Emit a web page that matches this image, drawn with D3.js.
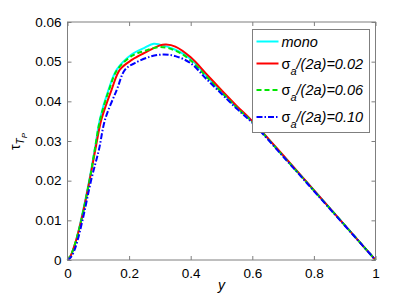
<!DOCTYPE html>
<html><head><meta charset="utf-8">
<script src="https://cdn.jsdelivr.net/npm/d3@7"></script>
<style>body{margin:0;background:#fff}svg{display:block;font-family:"Liberation Sans",Arial,sans-serif}</style>
</head><body><svg id="c" width="415" height="295"></svg>
<script>
const xTicks = [0, 0.2, 0.4, 0.6, 0.8, 1];
const yTicks = [0, 0.01, 0.02, 0.03, 0.04, 0.05, 0.06];
const xTickLabels = ["0", "0.2", "0.4", "0.6", "0.8", "1"];
const yTickLabels = ["0", "0.01", "0.02", "0.03", "0.04", "0.05", "0.06"];
const seriesNames = ["mono", "0.02", "0.06", "0.10"];
const monoX = [0,0.01,0.02,0.028,0.044,0.071,0.09,0.105,0.133,0.16,0.208,0.25,0.28,0.3,0.35,0.4,0.45,0.5,0.55,0.6,0.7,0.8,0.9,1];
const monoY = [0,0.001,0.003,0.005,0.0101,0.0202,0.0285,0.0354,0.0429,0.048,0.0518,0.0535,0.0545,0.0543,0.053,0.0507,0.0465,0.0424,0.0385,0.0349,0.0263,0.0176,0.0088,0];
const s02X = [0,0.01,0.02,0.03,0.045,0.072,0.092,0.11,0.143,0.17,0.21,0.25,0.3,0.32,0.35,0.4,0.45,0.5,0.55,0.6,0.7,0.8,0.9,1];
const s02Y = [0,0.001,0.003,0.0055,0.0101,0.0202,0.0285,0.0354,0.0429,0.048,0.0505,0.0522,0.0541,0.0543,0.0538,0.0511,0.047,0.0428,0.0388,0.035,0.0264,0.0176,0.0088,0];
const s06X = [0,0.01,0.02,0.03,0.045,0.072,0.09,0.106,0.135,0.162,0.21,0.25,0.3,0.35,0.4,0.45,0.5,0.55,0.6,0.7,0.8,0.9,1];
const s06Y = [0,0.001,0.003,0.0055,0.0101,0.0202,0.0285,0.0354,0.0429,0.048,0.0515,0.0527,0.0537,0.0528,0.0503,0.0463,0.0423,0.0384,0.0348,0.0262,0.0175,0.0088,0];
const s10X = [0,0.01,0.02,0.03,0.049,0.077,0.102,0.122,0.16,0.187,0.22,0.27,0.31,0.35,0.4,0.45,0.5,0.55,0.6,0.7,0.8,0.9,1];
const s10Y = [0,0.0006,0.002,0.0042,0.0101,0.0202,0.0278,0.0354,0.0429,0.048,0.0497,0.0513,0.0518,0.0514,0.0496,0.0457,0.0419,0.0381,0.0346,0.0261,0.0174,0.0087,0];

const svg = d3.select("#c");
const L = 67.5, R = 375.5, T = 22, B = 260;
const x = d3.scaleLinear().domain([0, 1]).range([L, R]);
const y = d3.scaleLinear().domain([0, 0.06]).range([B, T]);
const axisColor = "#7f7f7f";

const series = [
  {name: seriesNames[0], xs: monoX, ys: monoY, color: "#00ffff", dash: null},
  {name: seriesNames[1], xs: s02X, ys: s02Y, color: "#ff0000", dash: null},
  {name: seriesNames[2], xs: s06X, ys: s06Y, color: "#00e600", dash: "5,3"},
  {name: seriesNames[3], xs: s10X, ys: s10Y, color: "#0000ff", dash: "6,2,1.5,2"}
];

const line = d3.line().x(d => x(d[0])).y(d => y(d[1])).curve(d3.curveCatmullRom.alpha(0.5));
series.forEach(s => {
  const pts = s.xs.map((v, i) => [v, s.ys[i]]);
  svg.append("path").attr("d", line(pts)).attr("fill", "none")
    .attr("stroke", s.color).attr("stroke-width", 2)
    .attr("stroke-dasharray", s.dash);
});

// box
svg.append("rect").attr("x", L).attr("y", T).attr("width", R - L).attr("height", B - T)
  .attr("fill", "none").attr("stroke", axisColor).attr("stroke-width", 1);

// axes
const xAxis = d3.axisBottom(x).tickValues(xTicks).tickFormat((d, i) => xTickLabels[i]).tickSizeInner(-4).tickSizeOuter(0).tickPadding(8);
const gx = svg.append("g").attr("transform", `translate(0,${B})`).call(xAxis);
const xTop = d3.axisTop(x).tickValues(xTicks).tickFormat("").tickSizeInner(-4).tickSizeOuter(0);
const gxt = svg.append("g").attr("transform", `translate(0,${T})`).call(xTop);
const yAxis = d3.axisLeft(y).tickValues(yTicks).tickFormat((d, i) => yTickLabels[i]).tickSizeInner(-4).tickSizeOuter(0).tickPadding(6);
const gy = svg.append("g").attr("transform", `translate(${L},0)`).call(yAxis);
const yRight = d3.axisRight(y).tickValues(yTicks).tickFormat("").tickSizeInner(-4).tickSizeOuter(0);
const gyr = svg.append("g").attr("transform", `translate(${R},0)`).call(yRight);
[gx, gxt, gy, gyr].forEach(g => {
  g.select(".domain").remove();
  g.selectAll(".tick line").attr("stroke", axisColor);
  g.selectAll("text").attr("fill", "#000").attr("font-size", 13.5).attr("font-family", "Liberation Sans, Arial, sans-serif");
});

// x label
svg.append("text").attr("x", x(0.5)).attr("y", 290).attr("text-anchor", "middle")
  .attr("font-size", 14).attr("font-style", "italic").text("y");

// y label
const yl = svg.append("text").attr("transform", "translate(20,150) rotate(-90)")
  .attr("font-size", 14);
yl.append("tspan").text("τ");
yl.append("tspan").attr("dy", 4).attr("font-size", 10).attr("font-style", "italic").text("T");
yl.append("tspan").attr("dy", 3).attr("font-size", 8).attr("font-style", "italic").text("P");

// legend
const lg = svg.append("g");
lg.append("rect").attr("x", 252.5).attr("y", 29.5).attr("width", 117).attr("height", 103)
  .attr("fill", "#fff").attr("stroke", axisColor).attr("stroke-width", 1);
const rowsY = [41.5, 63.5, 90, 117];
series.forEach((s, i) => {
  const ry = rowsY[i];
  lg.append("line").attr("x1", 256.5).attr("x2", 278.5).attr("y1", ry).attr("y2", ry)
    .attr("stroke", s.color).attr("stroke-width", 2).attr("stroke-dasharray", s.dash);
  const t = lg.append("text").attr("x", 281.5).attr("y", ry + 5).attr("font-size", 14.5);
  if (i === 0) {
    t.attr("font-style", "italic").text(s.name);
  } else {
    t.append("tspan").text("σ");
    t.append("tspan").attr("dy", 6).attr("font-size", 11).attr("font-style", "italic").text("a");
    t.append("tspan").attr("dy", -6).attr("font-style", "italic").text("/(2a)=" + s.name);
  }
});
</script></body></html>
